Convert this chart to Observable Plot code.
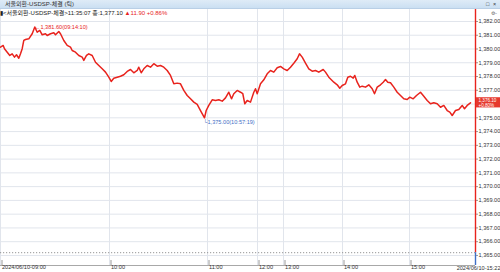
<!DOCTYPE html>
<html>
<head>
<meta charset="utf-8">
<script src="https://cdn.jsdelivr.net/npm/d3@7"></script>
<script src="https://cdn.jsdelivr.net/npm/@observablehq/plot@0.6"></script>
<style>
  html,body{margin:0;padding:0;background:#fff;}
  #wrap{position:relative;width:500px;height:272px;overflow:hidden;background:#fff;font-family:"Liberation Sans","Noto Sans CJK KR",Arial,sans-serif;}
  #plot{position:absolute;left:0;top:0;}
  #titlebar{position:absolute;left:0;top:0;width:500px;height:8px;background:linear-gradient(#dfebf7,#cbdff2);border-bottom:1px solid #b9cfe6;font-size:6px;line-height:8px;color:#333;}
  #titlebar .t{position:absolute;left:5px;top:0;}
  #titlebar .ic1{position:absolute;left:486px;top:0;font-size:5.5px;line-height:8px;color:#333;}
  #titlebar .ic2{position:absolute;left:493px;top:0;font-size:5.5px;line-height:8px;color:#333;}
  #hdr{position:absolute;left:0;top:10px;font-size:6px;line-height:7px;color:#222;white-space:nowrap;}
  #hdr .up{color:#e8231d;}
  #gear{position:absolute;right:3px;top:11px;font-size:5px;line-height:5px;color:#666;}
</style>
</head>
<body>
<div id="wrap">
  <div id="plot"></div>
  <div id="titlebar"><span class="t">서울외환-USDSP-체결 (틱)</span><span class="ic1">□</span><span class="ic2">×</span></div>
  <div id="hdr">▮&lt;서울외환-USDSP-체결&gt;11:35:07 종:1,377.10 <span class="up">▲11.90 +0.86%</span></div>
  <div id="gear">⚙-</div>
</div>
<script>
// tick sequence number (trade count position) and traded price
const seq = [0,27,40,67,93,117,140,160,183,200,217,233,250,283,317,343,367,393,417,450,467,500,533,550,583,600,633,667,700,717,750,783,817,833,860,883,917,950,983,1017,1050,1083,1107,1133,1167,1200,1233,1267,1300,1333,1367,1383,1407,1433,1467,1500,1533,1567,1600,1633,1667,1700,1733,1767,1800,1833,1867,1900,1933,1967,2000,2040,2057,2083,2117,2150,2183,2217,2250,2283,2310,2333,2367,2400,2423,2443,2467,2500,2533,2550,2567,2600,2633,2667,2700,2733,2767,2800,2833,2867,2900,2933,2967,2990,3017,3050,3083,3117,3150,3183,3227,3250,3283,3333,3367,3393,3417,3450,3473,3500,3527,3543,3567,3593,3617,3650,3683,3717,3740,3767,3800,3827,3850,3873,3900,3933,3967,4000,4033,4067,4093,4127,4160,4200,4233,4267,4300,4333,4367,4400,4433,4467,4493,4517,4550,4583,4617,4640,4667,4700];
const price = [1380.13,1380.26,1380.02,1379.77,1379.53,1379.65,1379.41,1379.58,1379.33,1379.65,1380.02,1380.62,1380.69,1380.74,1381.11,1381.60,1381.22,1381.35,1381.03,1381.11,1380.98,1381.11,1381.18,1381.03,1381.27,1381.11,1380.62,1380.26,1380.13,1379.89,1379.77,1379.53,1379.41,1379.17,1379.53,1379.65,1379.53,1379.04,1378.80,1378.56,1378.32,1377.95,1377.64,1377.88,1377.95,1378.02,1378.13,1378.37,1378.51,1378.27,1378.44,1378.68,1378.27,1378.56,1378.80,1378.68,1378.93,1378.75,1378.80,1378.68,1378.44,1378.08,1377.47,1377.52,1377.47,1376.99,1376.62,1376.38,1376.14,1375.97,1375.53,1375.00,1375.53,1375.90,1376.31,1376.26,1376.31,1376.21,1376.45,1376.86,1376.38,1376.75,1376.99,1376.86,1376.75,1376.02,1376.26,1376.14,1376.86,1377.11,1376.75,1377.47,1377.76,1378.20,1378.44,1378.32,1378.64,1378.73,1378.56,1378.44,1378.68,1378.97,1379.29,1379.65,1379.41,1378.97,1378.56,1378.39,1378.44,1378.32,1378.51,1378.32,1377.95,1377.59,1377.40,1377.15,1377.35,1377.47,1377.95,1378.02,1377.88,1378.08,1377.59,1377.23,1377.30,1377.23,1377.40,1377.11,1376.75,1377.23,1377.40,1377.59,1377.78,1377.59,1377.55,1377.23,1376.86,1376.62,1376.38,1376.33,1376.50,1376.38,1376.62,1376.86,1376.57,1376.26,1376.02,1376.09,1376.02,1375.77,1375.90,1375.53,1375.41,1375.17,1375.53,1375.60,1375.90,1375.66,1375.90,1376.09];

const hourSeq = [0,1090,2070,2570,2830,3420,4090];
const hourLabels = ["2024/06/10-09:00","10:00","11:00","12:00","13:00","14:00","15:00"];
const endSeq = 4750;
const endLabel = "2024/06/10-15:22";
const yTicks = [1365,1366,1367,1368,1369,1370,1371,1372,1373,1374,1375,1376,1377,1378,1379,1380,1381,1382];
const yMin = 1364.27, yMax = 1382.87;
const prevClose = 1365.20;
const maxPoint = {seq:343, price:1381.60, label:"←1,381.60(09:14:10)"};
const minPoint = {seq:2040, price:1375.00, label:"└1,375.00(10:57:19)"};
const lastLabel = "1,376.10\n+0.80%";

const RED = "#e8231d", BLUE = "#3f6fc6";
const data = seq.map((s,i)=>({seq:s, price:price[i]}));
const last = data[data.length-1];
const labelOf = new Map(hourSeq.map((s,i)=>[s,hourLabels[i]]));
// the current-price box hides the tick label it covers
const yLabelTicks = yTicks.filter(t => Math.abs(t - last.price) > 0.5);

const chart = Plot.plot({
  width:500, height:272,
  marginLeft:0, marginRight:25, marginTop:9, marginBottom:7,
  x:{domain:[0,endSeq], label:null},
  y:{domain:[yMin,yMax], label:null},
  style:{fontFamily:"Liberation Sans, Arial, sans-serif", fontSize:"5.6px", background:"transparent", color:"#333"},
  marks:[
    Plot.gridY(yTicks,{stroke:"#e1e5ec", strokeOpacity:1}),
    Plot.gridX(hourSeq,{stroke:"#e1e5ec", strokeOpacity:1}),
    Plot.ruleY([prevClose],{stroke:"#8a8a8a", strokeDasharray:"1.2,1.8", strokeWidth:0.9}),
    Plot.ruleY([yMin],{stroke:"#a8a8a8"}),
    Plot.axisX({ticks:hourSeq, tickFormat:d=>labelOf.get(d), label:null, tickSize:5, tickPadding:0, textAnchor:"start", dx:1.5, dy:-5, stroke:"#999", fill:"#333", fontSize:5.6}),
    Plot.text([endLabel],{x:()=>endSeq, frameAnchor:"bottom", text:d=>d, textAnchor:"end", dx:25, dy:4.4, fill:"#333", fontSize:5.6}),
    Plot.axisY({anchor:"right", ticks:yLabelTicks, tickFormat:d3.format(",.2f"), label:null, tickSize:2, tickPadding:1, stroke:"#999", fill:"#333", fontSize:5.6}),
    Plot.ruleX([endSeq],{y1:prevClose, y2:yMax, stroke:RED, strokeWidth:1.4}),
    Plot.ruleX([endSeq],{y1:yMin, y2:prevClose, stroke:BLUE, strokeWidth:1.4}),
    Plot.line(data,{x:"seq", y:"price", stroke:RED, strokeWidth:1.5}),
    Plot.text([maxPoint],{x:"seq", y:"price", text:"label", textAnchor:"start", dx:0, fill:RED, fontSize:5.6}),
    Plot.text([minPoint],{x:"seq", y:"price", text:"label", textAnchor:"start", dx:-1, dy:4, fill:BLUE, fontSize:5.6}),
    Plot.rect([last],{x1:()=>endSeq+10, x2:()=>5000, y1:d=>d.price-0.37, y2:d=>d.price+0.37, fill:"#e6392e"}),
    Plot.text([last],{x:()=>endSeq, y:"price", text:()=>lastLabel, textAnchor:"start", dx:3, fill:"#fff", fontSize:4.6, lineHeight:1.05})
  ]
});
document.getElementById("plot").appendChild(chart);
</script>
</body>
</html>
